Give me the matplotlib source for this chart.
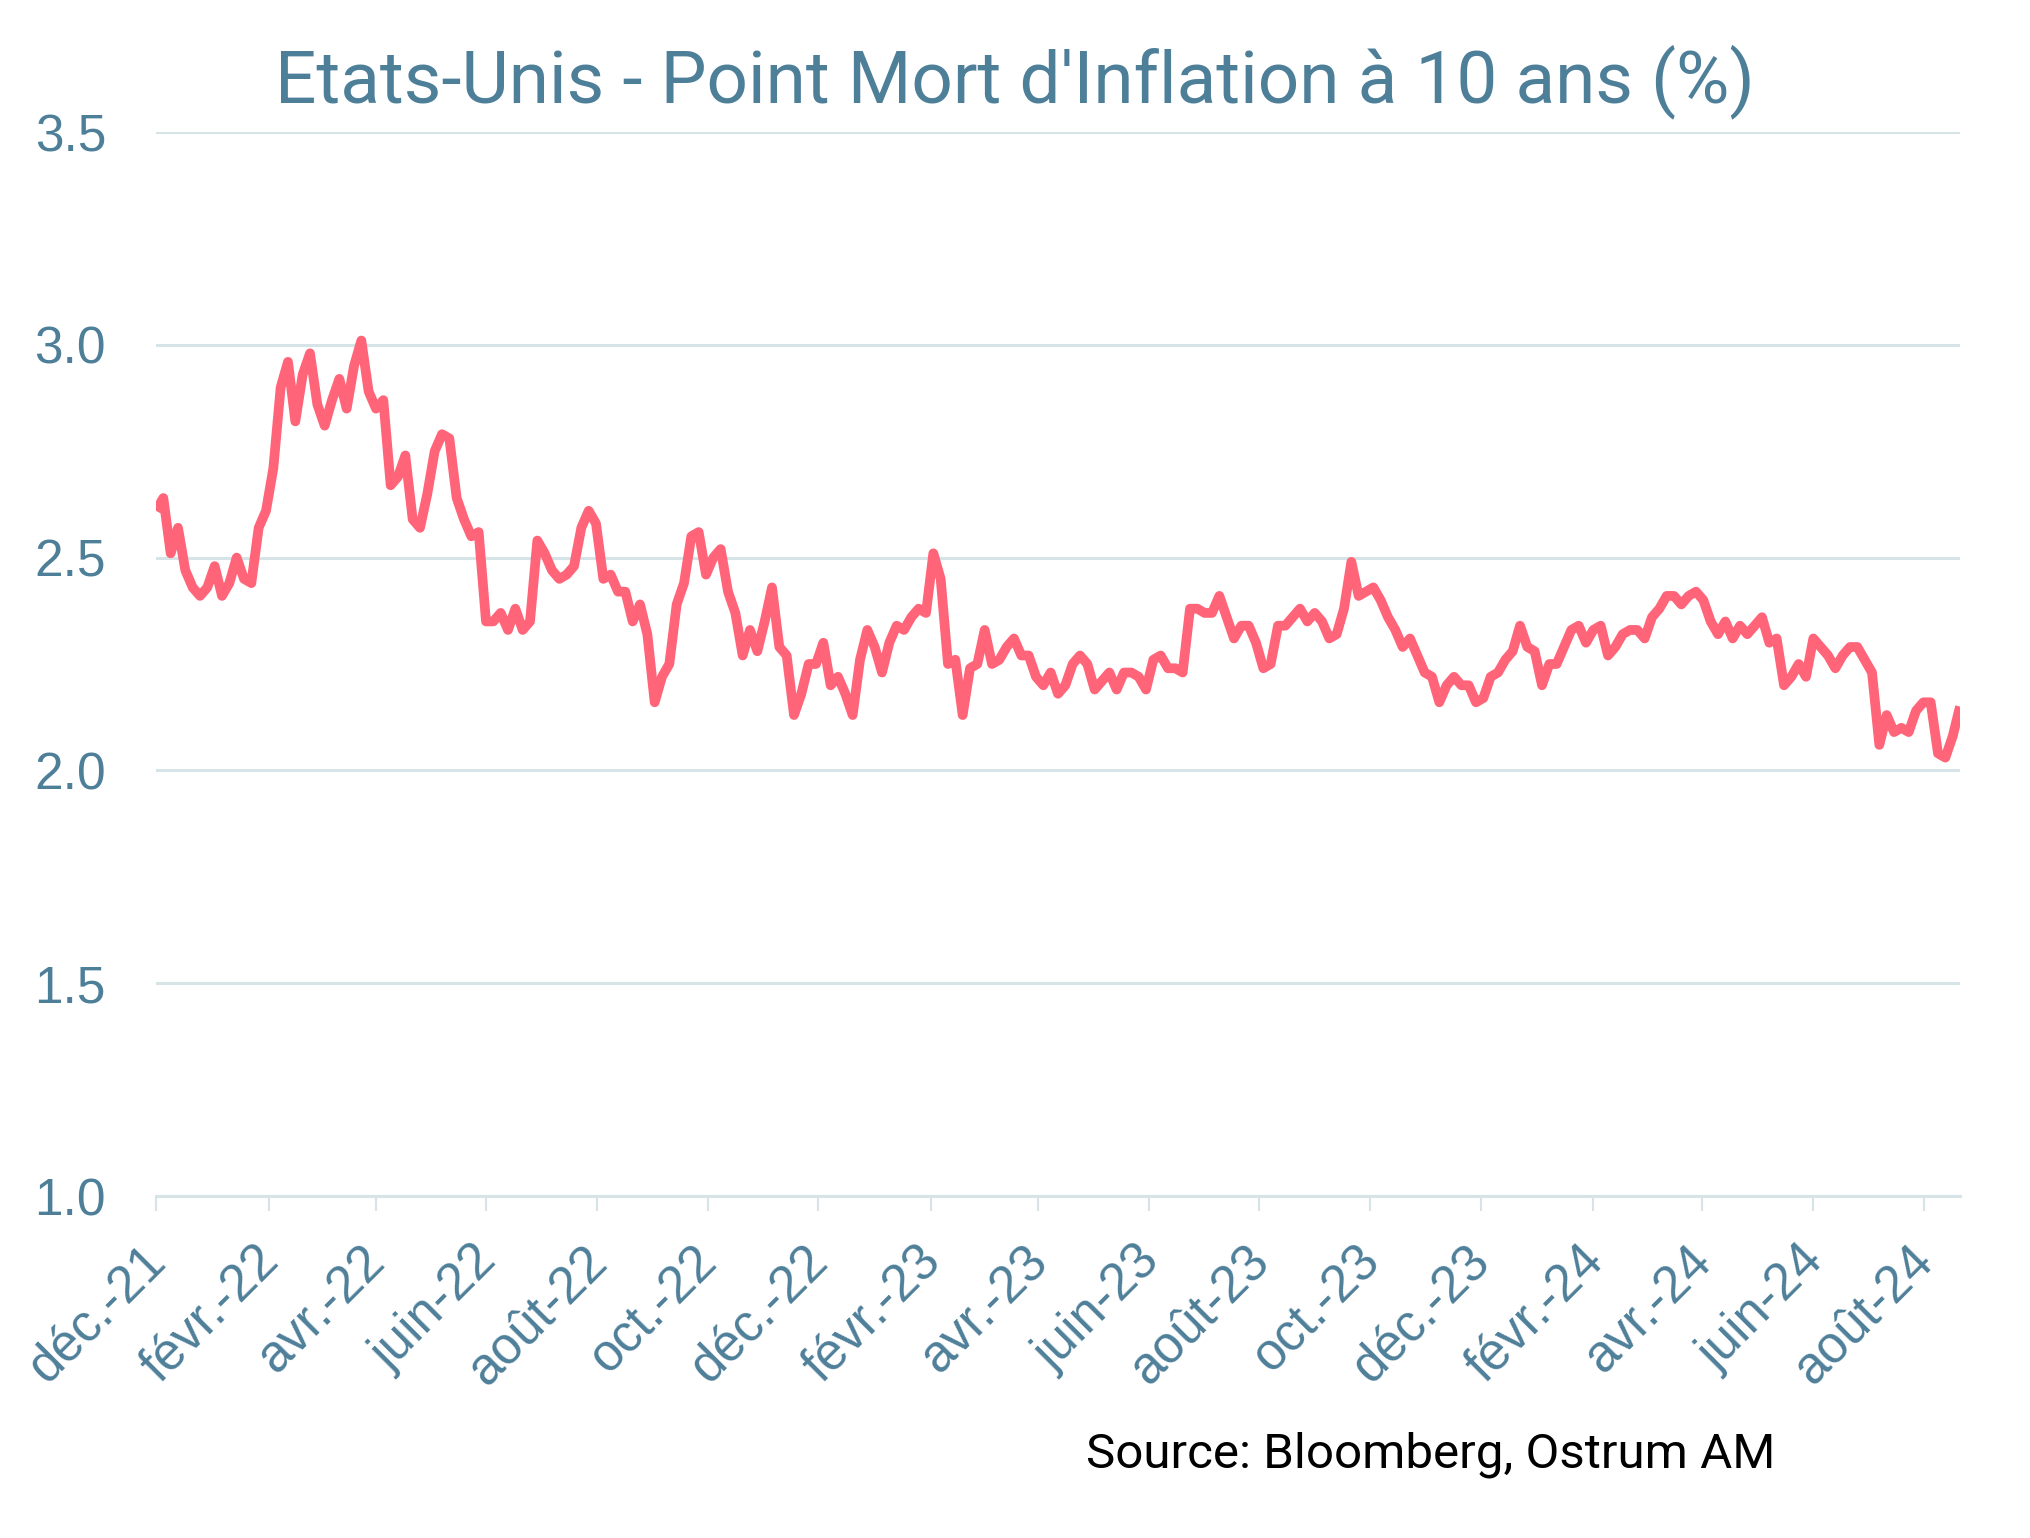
import pandas as pd
import matplotlib
matplotlib.use("Agg")
import matplotlib.pyplot as plt
import matplotlib.transforms as mtransforms

# US 10y breakeven, evenly spaced readings from 1 Dec 2021 to 21 Aug 2024
breakeven = [
    2.61, 2.64, 2.51, 2.57, 2.47, 2.43, 2.41, 2.43, 2.48, 2.41,
    2.44, 2.50, 2.45, 2.44, 2.57, 2.61, 2.71, 2.90, 2.96, 2.82,
    2.93, 2.98, 2.86, 2.81, 2.87, 2.92, 2.85, 2.95, 3.01, 2.89,
    2.85, 2.87, 2.67, 2.69, 2.74, 2.59, 2.57, 2.65, 2.75, 2.79,
    2.78, 2.64, 2.59, 2.55, 2.56, 2.35, 2.35, 2.37, 2.33, 2.38,
    2.33, 2.35, 2.54, 2.51, 2.47, 2.45, 2.46, 2.48, 2.57, 2.61,
    2.58, 2.45, 2.46, 2.42, 2.42, 2.35, 2.39, 2.32, 2.16, 2.22,
    2.25, 2.39, 2.44, 2.55, 2.56, 2.46, 2.50, 2.52, 2.42, 2.37,
    2.27, 2.33, 2.28, 2.35, 2.43, 2.29, 2.27, 2.13, 2.18, 2.25,
    2.25, 2.30, 2.20, 2.22, 2.18, 2.13, 2.26, 2.33, 2.29, 2.23,
    2.30, 2.34, 2.33, 2.36, 2.38, 2.37, 2.51, 2.45, 2.25, 2.26,
    2.13, 2.24, 2.25, 2.33, 2.25, 2.26, 2.29, 2.31, 2.27, 2.27,
    2.22, 2.20, 2.23, 2.18, 2.20, 2.25, 2.27, 2.25, 2.19, 2.21,
    2.23, 2.19, 2.23, 2.23, 2.22, 2.19, 2.26, 2.27, 2.24, 2.24,
    2.23, 2.38, 2.38, 2.37, 2.37, 2.41, 2.36, 2.31, 2.34, 2.34,
    2.30, 2.24, 2.25, 2.34, 2.34, 2.36, 2.38, 2.35, 2.37, 2.35,
    2.31, 2.32, 2.38, 2.49, 2.41, 2.42, 2.43, 2.40, 2.36, 2.33,
    2.29, 2.31, 2.27, 2.23, 2.22, 2.16, 2.20, 2.22, 2.20, 2.20,
    2.16, 2.17, 2.22, 2.23, 2.26, 2.28, 2.34, 2.29, 2.28, 2.20,
    2.25, 2.25, 2.29, 2.33, 2.34, 2.30, 2.33, 2.34, 2.27, 2.29,
    2.32, 2.33, 2.33, 2.31, 2.36, 2.38, 2.41, 2.41, 2.39, 2.41,
    2.42, 2.40, 2.35, 2.32, 2.35, 2.31, 2.34, 2.32, 2.34, 2.36,
    2.30, 2.31, 2.20, 2.22, 2.25, 2.22, 2.31, 2.29, 2.27, 2.24,
    2.27, 2.29, 2.29, 2.26, 2.23, 2.06, 2.13, 2.09, 2.10, 2.09,
    2.14, 2.16, 2.16, 2.04, 2.03, 2.08, 2.15,
]
first_day = pd.Timestamp('2021-12-01')
last_day = pd.Timestamp('2024-08-21')
dates = pd.date_range(first_day, last_day, periods=len(breakeven))

tick_dates = pd.date_range('2021-12-01', '2024-08-01', freq='2MS')
tick_labels = ['déc.-21', 'févr.-22', 'avr.-22', 'juin-22', 'août-22', 'oct.-22',
               'déc.-22', 'févr.-23', 'avr.-23', 'juin-23', 'août-23', 'oct.-23',
               'déc.-23', 'févr.-24', 'avr.-24', 'juin-24', 'août-24']
y_ticks = [1.0, 1.5, 2.0, 2.5, 3.0, 3.5]

blue = '#4E7F99'
grid_col = '#D6E4E8'
line_col = '#FF6479'

fig = plt.figure(figsize=(20.3, 15.38), dpi=100)
ax = fig.add_axes([156 / 2030, 1 - 1196 / 1538, (1960 - 156) / 2030, 1064 / 1538])

ax.plot(dates, breakeven, color=line_col, lw=7, solid_joinstyle='round',
        solid_capstyle='butt')

ax.set_ylim(1.0, 3.5)
ax.set_yticks(y_ticks)
ax.set_yticklabels([f'{v:.1f}' for v in y_ticks])
ax.set_xlim(first_day, last_day)
ax.set_xticks(tick_dates)
ax.set_xticklabels(tick_labels, rotation=45, ha='right', va='top')

ax.yaxis.grid(True, color=grid_col, lw=2.2)
ax.set_axisbelow(True)
for s in ['left', 'right', 'top']:
    ax.spines[s].set_visible(False)
ax.spines['bottom'].set_color(grid_col)
ax.spines['bottom'].set_linewidth(2.2)

ax.tick_params(axis='y', length=0, pad=36, labelsize=37, labelcolor=blue)
ax.tick_params(axis='x', length=11, width=1.5, color=grid_col, pad=18,
               labelsize=37, labelcolor=blue)
for lab in ax.get_yticklabels() + ax.get_xticklabels():
    lab.set_family('Liberation Sans')
shift = mtransforms.ScaledTranslation(0.2, 0, fig.dpi_scale_trans)
for lab in ax.get_xticklabels():
    lab.set_transform(lab.get_transform() + shift)

fig.text(0.5, 1 - 102 / 1538, "Etats-Unis - Point Mort d'Inflation à 10 ans (%)",
         ha='center', va='baseline', fontsize=52.5, family='Roboto', color=blue)
fig.text(1086 / 2030, 1 - 1468 / 1538, 'Source: Bloomberg, Ostrum AM',
         ha='left', va='baseline', fontsize=35.5, family='Roboto', color='black')

fig.savefig('out.png', dpi=100)
